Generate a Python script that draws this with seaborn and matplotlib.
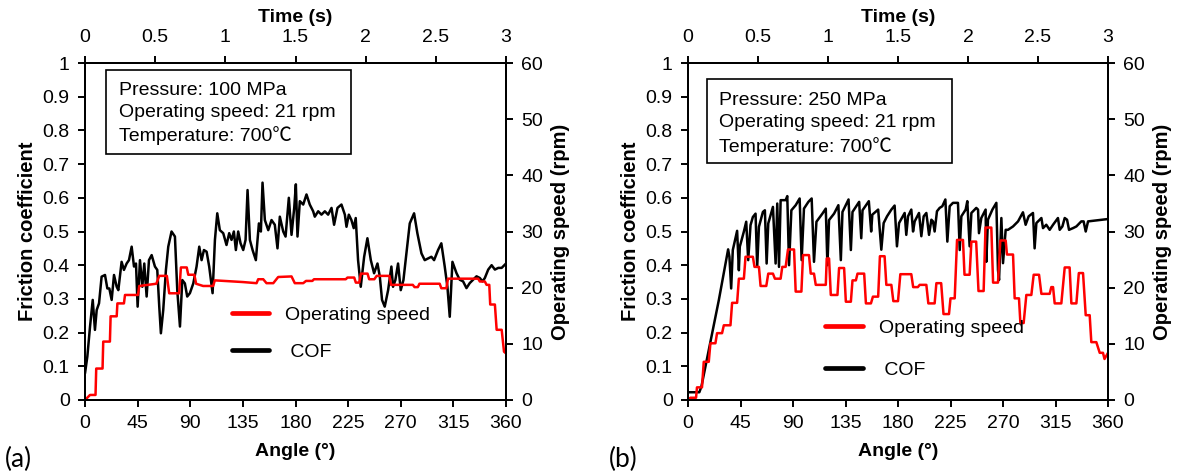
import numpy as np
import pandas as pd
import matplotlib
matplotlib.use("Agg")
import matplotlib.pyplot as plt
import seaborn as sns
from matplotlib.lines import Line2D
from matplotlib.patches import Rectangle

# ---------------- data ----------------
# Panel (a): 100 MPa
a_cof_angle = [0, 2.0, 4.3, 6.6, 8.5, 10.0, 12.0, 14.2, 17.1, 19.1, 20.8, 22.8, 24.8, 27.1, 28.5,
               31.3, 33.3, 35.6, 37.6, 39.9, 41.9, 43.6, 45.0, 47.0, 49.0, 50.7, 52.7, 54.7, 57.0,
               59.8, 61.8, 63.5, 64.9, 66.9, 69.2, 71.2, 74.0, 76.9, 78.9, 81.2, 83.2, 85.4, 87.4,
               89.7, 92.6, 95.4, 97.7, 99.7, 101.7, 104.0, 106.2, 109.1, 111.1, 113.1, 115.3, 118.2,
               121.0, 123.3, 125.3, 127.3, 129.0, 131.0, 133.0, 135.3, 137.3, 139.0, 141.0, 143.3,
               146.1, 148.7, 150.4, 151.8, 153.8, 156.7, 159.5, 162.3, 164.6, 166.6, 169.5, 171.5,
               174.3, 176.6, 178.9, 180.3, 181.7, 183.7, 186.6, 189.4, 192.2, 195.1, 196.5, 199.4,
               202.2, 205.1, 207.9, 210.8, 213.0, 215.9, 219.3, 222.2, 223.6, 225.6, 227.8, 229.8,
               231.5, 233.5, 235.8, 238.7, 241.5, 244.4, 247.2, 250.1, 252.1, 254.0, 256.3, 259.2,
               262.0, 263.4, 265.4, 267.7, 270.0, 272.3, 274.8, 277.7, 281.4, 284.2, 287.7, 290.5,
               293.3, 296.2, 298.5, 301.9, 304.7, 307.6, 309.9, 311.9, 314.2, 317.6, 320.4, 323.3,
               326.2, 329.0, 331.9, 334.8, 337.6, 339.9, 341.9, 344.8, 347.7, 350.5, 353.4, 356.3, 360]
a_cof = [0.079, 0.129, 0.218, 0.297, 0.208, 0.267, 0.287, 0.366, 0.371, 0.331, 0.331, 0.297, 0.371,
         0.336, 0.326, 0.41, 0.386, 0.405, 0.415, 0.455, 0.396, 0.405, 0.277, 0.415, 0.336, 0.405,
         0.307, 0.415, 0.43, 0.396, 0.386, 0.277, 0.198, 0.267, 0.386, 0.455, 0.50, 0.485, 0.326,
         0.218, 0.356, 0.346, 0.307, 0.317, 0.346, 0.396, 0.455, 0.415, 0.445, 0.44, 0.396, 0.317,
         0.475, 0.554, 0.504, 0.495, 0.46, 0.495, 0.475, 0.50, 0.445, 0.50, 0.465, 0.445, 0.475,
         0.623, 0.475, 0.445, 0.415, 0.524, 0.50, 0.645, 0.534, 0.504, 0.534, 0.52, 0.45, 0.544,
         0.50, 0.485, 0.60, 0.49, 0.57, 0.64, 0.485, 0.59, 0.58, 0.61, 0.58, 0.56, 0.544, 0.56,
         0.55, 0.56, 0.55, 0.57, 0.52, 0.57, 0.58, 0.55, 0.514, 0.55, 0.534, 0.51, 0.54, 0.415,
         0.336, 0.425, 0.48, 0.415, 0.376, 0.405, 0.366, 0.297, 0.277, 0.326, 0.396, 0.336, 0.356,
         0.405, 0.326, 0.356, 0.435, 0.524, 0.554, 0.495, 0.435, 0.415, 0.42, 0.425, 0.415, 0.445,
         0.465, 0.396, 0.336, 0.247, 0.41, 0.377, 0.357, 0.352, 0.332, 0.347, 0.357, 0.367, 0.362,
         0.352, 0.362, 0.387, 0.40, 0.387, 0.392, 0.392, 0.405]

a_speed_angle = [0, 4.3, 9.0, 9.6, 15.0, 15.6, 21.3, 21.9, 27.1, 27.7, 33.3, 34.2, 45.3, 46.4, 61.0,
                 63.5, 70.0, 72.0, 80.5, 82.0, 87.0, 88.3, 93.5, 95.0, 101.0, 109.6, 111.0, 135.0,
                 146.7, 148.1, 152.4, 155.2, 161.0, 165.2, 176.6, 179.4, 186.6, 189.0, 194.4, 195.8,
                 223.0, 224.4, 230.2, 231.6, 234.5, 235.9, 241.6, 243.0, 247.4, 249.4, 260.3, 261.7,
                 280.3, 281.8, 284.6, 286.0, 303.3, 304.7, 309.0, 310.4, 336.2, 337.6, 341.9, 343.4,
                 345.7, 346.5, 350.5, 352.0, 356.3, 358.3, 360]
a_speed = [0, 0.9, 0.9, 5.6, 5.6, 10.4, 10.4, 14.9, 14.9, 17.2, 17.2, 18.7, 18.7, 20.3, 20.7,
           22.1, 22.1, 19.0, 19.0, 23.6, 23.6, 22.3, 22.3, 20.7, 20.3, 20.3, 21.3, 21.0,
           20.8, 21.5, 21.5, 20.8, 20.8, 21.9, 22.0, 20.8, 20.8, 21.2, 21.2, 21.5,
           21.5, 21.8, 21.8, 20.9, 20.9, 22.5, 22.5, 21.5, 21.5, 22.1, 22.1, 20.5,
           20.5, 20.1, 20.1, 20.7, 20.7, 19.9, 19.9, 21.6, 21.6, 21.1, 21.1, 20.5,
           20.5, 17.0, 17.0, 12.5, 12.5, 8.6, 8.3]

# Panel (b): 250 MPa
b_cof_angle = [0, 9.7, 11.5, 17.8, 26.4, 34.4, 35.5, 37.0, 38.4, 42.1, 43.6, 44.4, 47.9, 49.9, 51.6,
               53.6, 55.6, 57.9, 59.3, 60.8, 64.2, 65.9, 67.4, 68.8, 72.8, 75.1, 76.5, 78.0, 79.4,
               83.7, 85.1, 86.6, 88.6, 92.3, 95.7, 97.4, 99.4, 103.2, 106.0, 108.0, 110.1, 115.2,
               118.1, 119.5, 120.9, 125.2, 128.9, 131.0, 132.4, 137.6, 139.6, 141.0, 146.7, 148.5,
               149.6, 155.0, 157.0, 158.0, 163.0, 165.7, 167.7, 170.6, 174.3, 177.1, 179.1, 180.9,
               185.7, 187.1, 188.6, 191.4, 192.9, 194.3, 198.0, 200.0, 202.0, 204.3, 206.6, 208.6,
               210.0, 211.4, 213.4, 215.7, 218.0, 220.6, 222.3, 224.3, 227.1, 231.4, 232.9, 234.3,
               238.0, 239.4, 241.4, 242.9, 247.1, 248.6, 249.4, 251.4, 255.1, 255.7, 257.1, 260.9,
               264.3, 265.7, 266.6, 268.6, 270.0, 272.3, 274.3, 278.6, 282.9, 287.1, 289.4, 292.0,
               295.7, 297.1, 298.6, 302.9, 304.3, 307.1, 310.0, 312.9, 317.1, 318.6, 320.9, 322.9,
               324.9, 326.6, 330.0, 332.9, 337.1, 339.1, 340.9, 342.9, 360]
b_cof = [0.023, 0.023, 0.04, 0.148, 0.296, 0.447, 0.425, 0.331, 0.445, 0.502, 0.385, 0.455, 0.50,
         0.529, 0.415, 0.519, 0.543, 0.553, 0.395, 0.514, 0.558, 0.563, 0.405, 0.524, 0.573, 0.405,
         0.583, 0.395, 0.593, 0.593, 0.605, 0.40, 0.563, 0.578, 0.598, 0.415, 0.568, 0.588, 0.598,
         0.41, 0.529, 0.553, 0.568, 0.40, 0.534, 0.553, 0.578, 0.415, 0.558, 0.595, 0.445, 0.558,
         0.588, 0.48, 0.563, 0.59, 0.50, 0.55, 0.565, 0.446, 0.525, 0.545, 0.565, 0.577, 0.456,
         0.525, 0.555, 0.49, 0.545, 0.565, 0.50, 0.53, 0.555, 0.486, 0.545, 0.555, 0.49, 0.535,
         0.53, 0.50, 0.56, 0.57, 0.575, 0.595, 0.47, 0.575, 0.585, 0.585, 0.445, 0.545, 0.565,
         0.59, 0.456, 0.555, 0.57, 0.565, 0.495, 0.54, 0.565, 0.41, 0.535, 0.565, 0.585, 0.386,
         0.356, 0.54, 0.406, 0.505, 0.505, 0.515, 0.53, 0.557, 0.52, 0.545, 0.555, 0.45, 0.525,
         0.54, 0.51, 0.52, 0.505, 0.52, 0.54, 0.505, 0.515, 0.54, 0.535, 0.505, 0.51, 0.515,
         0.53, 0.53, 0.50, 0.53, 0.537]

b_speed_angle = [0, 2.0, 6.9, 7.7, 12.0, 13.5, 17.8, 19.2, 23.5, 24.9, 29.2, 30.7, 36.4, 37.8, 42.1,
                 43.6, 47.9, 49.3, 55.6, 57.0, 60.8, 62.2, 67.1, 68.8, 72.8, 74.5, 79.4, 80.8, 83.7,
                 85.7, 90.9, 92.3, 97.2, 98.6, 103.7, 105.2, 108.0, 109.5, 118.1, 118.9, 120.9,
                 122.4, 128.1, 129.5, 133.8, 135.3, 139.6, 141.0, 143.9, 145.3, 151.0, 152.5, 156.8,
                 158.5, 163.0, 164.5, 168.5, 170.0, 174.3, 176.0, 180.0, 182.0, 191.4, 193.0, 197.0,
                 198.6, 204.3, 206.0, 211.4, 212.9, 217.0, 219.0, 223.7, 225.0, 228.6, 230.6, 235.7,
                 237.0, 241.4, 242.9, 247.0, 249.0, 253.4, 255.0, 260.0, 261.5, 265.7, 267.7, 272.3,
                 273.4, 278.6, 280.0, 283.7, 284.9, 287.7, 290.0, 294.3, 296.3, 300.9, 302.9, 310.0,
                 311.4, 312.9, 314.3, 320.0, 322.9, 327.1, 328.6, 332.9, 335.0, 338.6, 340.9, 344.3,
                 345.7, 350.0, 352.9, 355.7, 357.0, 360]
b_speed = [0, 0.4, 0.4, 2.25, 2.25, 6.8, 6.8, 10.1, 10.1, 11.9, 11.9, 13.3, 13.3, 17.3, 17.3,
           21.6, 21.6, 25.5, 25.5, 23.7, 23.7, 20.3, 20.3, 22.5, 22.5, 21.6, 21.6, 23.7, 23.7,
           26.8, 26.8, 19.3, 19.3, 25.8, 25.8, 22.5, 22.5, 20.5, 20.5, 25.2, 25.2,
           18.7, 18.7, 23.5, 23.5, 17.5, 17.5, 21.3, 21.3, 22.5, 22.5, 17.2, 17.2,
           18.4, 18.4, 25.6, 25.6, 20.5, 20.5, 17.6, 17.6, 22.4, 22.4, 20.1, 20.1,
           20.5, 20.5, 17.2, 17.2, 20.8, 20.8, 15.3, 15.3, 18.1, 18.1, 28.5, 28.5,
           22.3, 22.3, 28.2, 28.2, 19.4, 19.4, 30.7, 30.7, 20.9, 20.9, 28.4, 28.4,
           25.9, 25.9, 18.1, 18.1, 13.7, 13.7, 18.7, 18.7, 22.3, 22.3, 18.9, 18.9,
           20.1, 20.1, 17.2, 17.2, 23.6, 23.6, 17.2, 17.2, 22.6, 22.6, 15.1, 15.1,
           10.3, 10.3, 8.4, 8.4, 7.3, 8.4]

angle_ticks = [0, 45, 90, 135, 180, 225, 270, 315, 360]
cof_ticks = [0, 0.1, 0.2, 0.3, 0.4, 0.5, 0.6, 0.7, 0.8, 0.9, 1]
rpm_ticks = [0, 10, 20, 30, 40, 50, 60]
time_ticks = [0, 0.5, 1, 1.5, 2, 2.5, 3]
legend_labels = ["Operating speed", " COF"]
info_a = "Pressure: 100 MPa\nOperating speed: 21 rpm\nTemperature: 700℃"
info_b = "Pressure: 250 MPa\nOperating speed: 21 rpm\nTemperature: 700℃"

# ---------------- styling ----------------
sns.set_theme(style="ticks")
plt.rcParams["font.family"] = ["Liberation Sans", "Noto Sans CJK SC", "DejaVu Sans"]
plt.rcParams.update({
    "axes.edgecolor": "black", "axes.labelcolor": "black", "text.color": "black",
    "xtick.color": "black", "ytick.color": "black", "axes.linewidth": 1.4,
})

FS = 14
fig = plt.figure(figsize=(11.77, 4.75), dpi=100)


def panel(rect, cof_x, cof_y, sp_x, sp_y, info, box, text_xy, leg_anchor, leg_spacing):
    ax = fig.add_axes(rect)
    ax2 = ax.twinx()
    df_c = pd.DataFrame({"angle": cof_x, "cof": cof_y})
    df_s = pd.DataFrame({"angle": sp_x, "rpm": sp_y})
    sns.lineplot(data=df_c, x="angle", y="cof", ax=ax, color="black", lw=1.8,
                 sort=False, estimator=None, legend=False)
    sns.lineplot(data=df_s, x="angle", y="rpm", ax=ax2, color="#FF0000", lw=1.8,
                 sort=False, estimator=None, legend=False)
    ax.set_xlim(0, 360)
    ax.set_ylim(0, 1)
    ax2.set_ylim(0, 60)
    ax.set_xticks(angle_ticks)
    ax.set_xticklabels([f"{t:g}" for t in angle_ticks])
    ax.set_yticks(cof_ticks)
    ax.set_yticklabels([f"{t:g}" for t in cof_ticks])
    ax2.set_yticks(rpm_ticks)
    ax2.set_yticklabels([f"{t:g}" for t in rpm_ticks])
    for a in (ax, ax2):
        a.tick_params(direction="out", length=5, width=1.4, labelsize=FS, pad=6)
        for s in a.spines.values():
            s.set_visible(True)
            s.set_linewidth(1.4)
    sec = ax.secondary_xaxis("top", functions=(lambda a: a / 120.0, lambda t: t * 120.0))
    sec.set_xticks(time_ticks)
    sec.set_xticklabels([f"{t:g}" for t in time_ticks])
    sec.tick_params(direction="out", length=5, width=1.4, labelsize=FS, pad=7)
    sec.spines["top"].set_linewidth(1.4)
    sec.set_xlabel("Time (s)", fontsize=FS, fontweight="bold", labelpad=5)
    ax.set_xlabel("Angle (°)", fontsize=FS, fontweight="bold", labelpad=8)
    ax.set_ylabel("Friction coefficient", fontsize=14.5, fontweight="bold", labelpad=4)
    ax2.set_ylabel("Operating speed (rpm)", fontsize=14.5, fontweight="bold", labelpad=6)

    ax2.add_patch(Rectangle((box[0], box[1]), box[2], box[3], transform=ax.transAxes,
                            facecolor="white", edgecolor="black", lw=1.2, zorder=5))
    ax2.text(text_xy[0], text_xy[1], info, transform=ax.transAxes, va="top", ha="left",
             fontsize=FS, linespacing=1.38, zorder=6)

    handles = [Line2D([], [], color="#FF0000", lw=3.4), Line2D([], [], color="black", lw=3.4)]
    ax2.legend(handles, legend_labels, loc="upper left", bbox_to_anchor=leg_anchor,
               bbox_transform=ax.transAxes, frameon=False, fontsize=FS, handlelength=1.95,
               handletextpad=0.8, labelspacing=leg_spacing, borderpad=0, borderaxespad=0)
    return ax


panel([85 / 1177, 75 / 475, 421 / 1177, 337 / 475], a_cof_angle, a_cof, a_speed_angle, a_speed,
      info_a, (0.049, 0.731, 0.583, 0.249), (0.081, 0.944), (0.348, 0.277), 0.97)
panel([688 / 1177, 75 / 475, 420 / 1177, 337 / 475], b_cof_angle, b_cof, b_speed_angle, b_speed,
      info_b, (0.045, 0.703, 0.583, 0.249), (0.074, 0.913), (0.327, 0.240), 1.25)

fig.text(5 / 1177, 3 / 475, "(a)", fontsize=19, family=["Lato", "DejaVu Sans"], va="bottom", ha="left")
fig.text(609 / 1177, 3 / 475, "(b)", fontsize=19, family=["Lato", "DejaVu Sans"], va="bottom", ha="left")

fig.savefig("out.png", dpi=100)
